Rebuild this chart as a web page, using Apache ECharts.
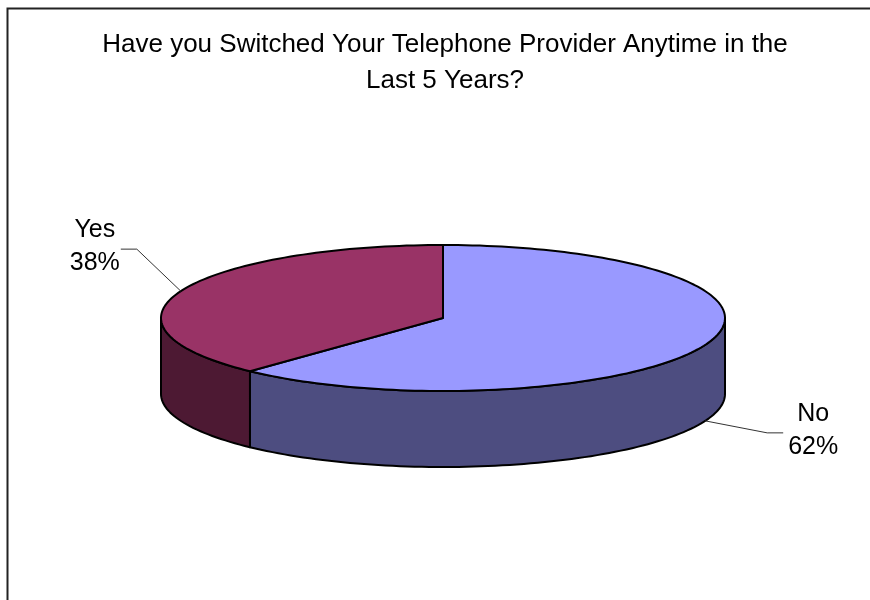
<!DOCTYPE html>
<html>
<head>
<meta charset="utf-8">
<script src="https://cdn.jsdelivr.net/npm/echarts@6/dist/echarts.min.js"></script>
<style>
  html, body { margin: 0; padding: 0; background: #fff; }
  #chart { width: 870px; height: 600px; }
</style>
</head>
<body>
<div id="chart"></div>
<script>
// Survey answers, drawn clockwise from the back of the pie
const categories = ['No', 'Yes'];
const shares = [62, 38];
const topColors = ['#9999ff', '#993366'];
const sideColors = ['#4d4d80', '#4d1933'];
const titleText = 'Have you Switched Your Telephone Provider Anytime in the\nLast 5 Years?';

const FONT = '"Liberation Sans", Arial, sans-serif';

// Ellipse geometry of the tilted pie
const geo = { cx: 443, cy: 318, rx: 282, ry: 73, depth: 76 };
// Leader-line offsets per slice: elbow, end, text anchor
const leaders = [
  { onSide: true,  elbow: [62, 12],  end: [16, 0],  text: [30, -2] },
  { onSide: false, elbow: [-44, -42], end: [-16, 0], text: [-26, -3] }
];

const total = shares.reduce((a, b) => a + b, 0);

function pt(deg, dy) {
  const t = deg * Math.PI / 180;
  return [geo.cx + geo.rx * Math.sin(t), geo.cy - geo.ry * Math.cos(t) + (dy || 0)];
}
function arc(a0, a1, dy) {
  const pts = [];
  const n = Math.max(2, Math.ceil(Math.abs(a1 - a0) / 1.5));
  for (let i = 0; i <= n; i++) pts.push(pt(a0 + (a1 - a0) * i / n, dy));
  return pts;
}

function renderItem(params, api) {
  const i = params.dataIndex;
  let start = 0;
  for (let k = 0; k < i; k++) start += shares[k];
  const a0 = start / total * 360;
  const a1 = (start + api.value(0)) / total * 360;
  const children = [];
  const edge = { stroke: '#000', lineWidth: 2, lineJoin: 'round' };

  // Front wall (visible between 90° and 270°)
  const s = Math.max(a0, 90), e = Math.min(a1, 270);
  if (e > s) {
    const pts = arc(s, e, 0).concat(arc(e, s, geo.depth));
    children.push({
      type: 'polygon', z2: 1,
      shape: { points: pts },
      style: Object.assign({ fill: sideColors[i] }, edge)
    });
  }
  // Top face
  const top = [[geo.cx, geo.cy]].concat(arc(a0, a1, 0));
  children.push({
    type: 'polygon', z2: 2,
    shape: { points: top },
    style: Object.assign({ fill: topColors[i] }, edge)
  });

  // Leader line and label
  const L = leaders[i];
  const mid = (a0 + a1) / 2;
  const p = pt(mid, L.onSide ? geo.depth : 0);
  const elbow = [p[0] + L.elbow[0], p[1] + L.elbow[1]];
  const end = [elbow[0] + L.end[0], elbow[1] + L.end[1]];
  children.push({
    type: 'polyline', z2: 3,
    shape: { points: [p, elbow, end] },
    style: { stroke: '#333', lineWidth: 1, fill: null }
  });
  const pct = Math.round(api.value(0) / total * 100);
  children.push({
    type: 'text', z2: 3,
    x: end[0] + L.text[0], y: end[1] + L.text[1],
    style: {
      text: categories[i] + '\n' + pct + '%',
      fontFamily: FONT, fontSize: 25, lineHeight: 33,
      fill: '#000', align: 'center', verticalAlign: 'middle'
    }
  });
  return { type: 'group', children: children };
}

const chart = echarts.init(document.getElementById('chart'), null, { renderer: 'canvas' });
chart.setOption({
  backgroundColor: '#ffffff',
  animation: false,
  title: {
    text: titleText,
    left: 440, top: 22, textAlign: 'center',
    textStyle: { fontFamily: FONT, fontSize: 26, fontWeight: 'normal', color: '#000', lineHeight: 36 }
  },
  graphic: [
    { type: 'polyline', shape: { points: [[7.5, 600], [7.5, 8.5], [870, 8.5]] },
      style: { stroke: '#222', lineWidth: 2, fill: null } }
  ],
  series: [{
    type: 'custom',
    coordinateSystem: 'none',
    renderItem: renderItem,
    data: shares.map((v, k) => ({ name: categories[k], value: [v] }))
  }]
});
</script>
</body>
</html>
